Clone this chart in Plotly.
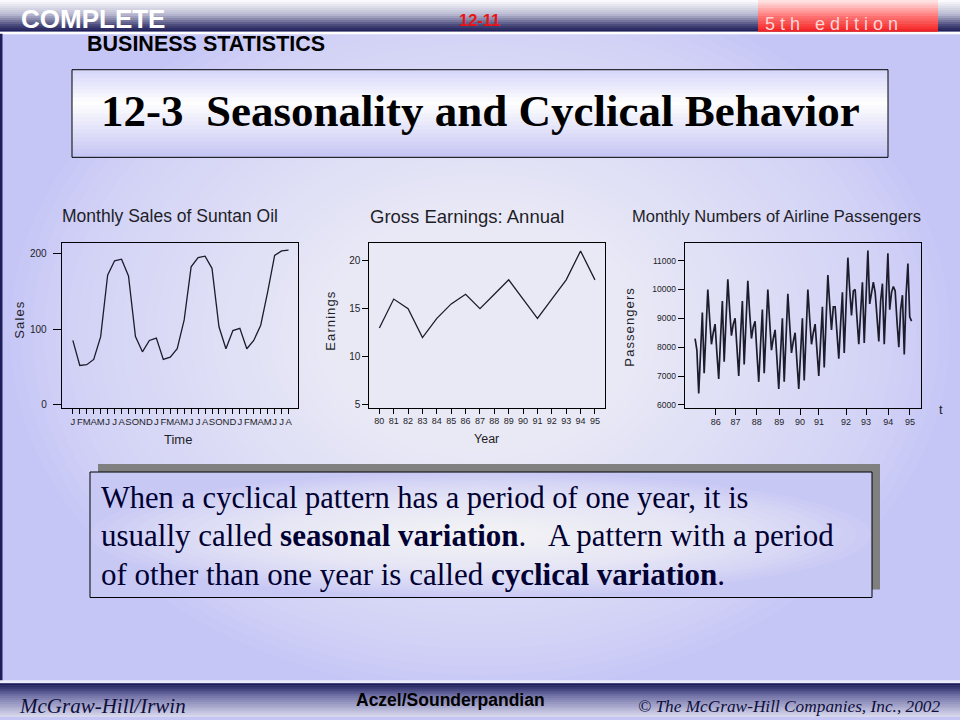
import plotly.graph_objects as go

W, H = 960, 720

# ---------------- data ----------------
suntan_months = list("JFMAMJJASOND" * 2 + "JFMAMJJA")
suntan_sales = [85, 52, 53, 60, 90, 171, 190, 192, 170, 90, 70, 85, 88, 60, 63, 74,
                112, 182, 194, 196, 180, 103, 74, 98, 101, 74, 85, 105, 149, 197, 203, 204]

earn_years = list(range(80, 96))
earn_labels = [str(y) for y in earn_years]
earn_values = [13, 16, 15, 12, 14, 15.5, 16.5, 15, 16.5, 18, 16, 14, 16, 18, 21, 18]

passengers = [8300, 7900, 6400, 7800, 9200, 7100, 8500, 10000, 9000, 8100,
              8500, 8800, 7800, 6900, 8300, 9600, 7500, 9000, 10350, 9300,
              8400, 8800, 9000, 8000, 7000, 8400, 9600, 7400, 8900, 10300,
              9200, 8300, 8700, 8900, 7800, 6800, 8100, 9300, 7100, 8600,
              10000, 8900, 7900, 8300, 8600, 7600, 6550, 7800, 9000, 6800,
              8300, 9850, 8800, 7800, 8200, 8500, 7500, 6550, 7800, 9000,
              6850, 8400, 10000, 9000, 8100, 8500, 8800, 7900, 7000, 8200,
              9400, 7300, 8900, 10500, 9500, 8600, 9400, 9400, 8500, 7600,
              8800, 9900, 7800, 9400, 11100, 10000, 9100, 9950, 10000, 9000,
              8100, 9200, 10250, 8150, 9800, 11350, 9500, 9900, 10250, 9900,
              9000, 8200, 9600, 10200, 8100, 9700, 11250, 9300, 9900, 10100,
              9950, 8900, 8000, 9300, 9800, 7750, 9800, 10900, 9050, 8900]
pass_tick_pos = [11.4, 22.2, 33.9, 46.3, 57.7, 68.1, 83.0, 94.0, 106.2, 118.1]
pass_tick_text = ["86", "87", "88", "89", "90", "91", "92", "93", "94", "95"]
pass_ytick_vals = [6000, 7000, 8000, 9000, 10000, 11000]
pass_ytick_text = [str(v) for v in pass_ytick_vals]

# ---------------- helpers ----------------
def X(px):
    return px / W

def Y(py):
    return 1 - py / H

shapes = []
annotations = []

def rect(x0, y0, x1, y1, fill, line=None, opacity=1.0):
    shapes.append(dict(type="rect", xref="paper", yref="paper",
                       x0=X(x0), x1=X(x1), y0=Y(y1), y1=Y(y0),
                       fillcolor=fill, opacity=opacity, layer="below",
                       line=line if line else dict(width=0)))

def ellipse(cx, cy, rx, ry, fill, opacity):
    shapes.append(dict(type="circle", xref="paper", yref="paper",
                       x0=X(cx - rx), x1=X(cx + rx), y0=Y(cy + ry), y1=Y(cy - ry),
                       fillcolor=fill, opacity=opacity, layer="below",
                       line=dict(width=0)))

def lerp(stops, t):
    for (t0, c0), (t1, c1) in zip(stops[:-1], stops[1:]):
        if t0 <= t <= t1:
            f = (t - t0) / (t1 - t0) if t1 > t0 else 0
            c = [round(a + (b - a) * f) for a, b in zip(c0, c1)]
            return "rgb(%d,%d,%d)" % tuple(c)
    c = stops[-1][1]
    return "rgb(%d,%d,%d)" % tuple(c)

def vgrad(x0, y0, x1, y1, stops, n):
    h = (y1 - y0) / n
    for i in range(n):
        ya = y0 + h * i
        yb = min(y1, ya + h + 0.6)
        rect(x0, ya, x1, yb, lerp(stops, (i + 0.5) / n))

def text(x, y, s, size, family, color="black", xanchor="center", yanchor="middle", angle=0):
    annotations.append(dict(x=X(x), y=Y(y), xref="paper", yref="paper", text=s,
                            showarrow=False, xanchor=xanchor, yanchor=yanchor,
                            textangle=angle,
                            font=dict(size=size, family=family, color=color)))

SANS = "Liberation Sans, Arial, sans-serif"
SERIF = "Liberation Serif, Times New Roman, serif"
HS = "\u200a"

def spaced(s):
    return HS.join(list(s))

# ---------------- slide background ----------------
rect(0, 0, W, H, "rgb(198,198,246)")
for i in range(40):
    s = 1.0 - i * 0.024
    ellipse(480, 335, 470 * s, 360 * s, "white", 0.045)

# top bar
vgrad(0, 0, W, 32, [(0, (255, 255, 255)), (0.45, (185, 185, 210)), (0.8, (70, 70, 120)), (1, (25, 25, 85))], 16)
rect(0, 32, W, 34.5, "white")
# red edition box
vgrad(758, 0, 938, 32, [(0, (255, 235, 235)), (0.5, (255, 120, 120)), (1, (245, 30, 30))], 12)
# left border line
rect(0, 34, 2.5, 684, "rgb(30,30,90)")
# bottom bar
rect(0, 683, W, 686, "rgb(235,235,252)")
vgrad(0, 686, W, 720, [(0, (20, 20, 80)), (0.35, (110, 110, 165)), (1, (220, 220, 240))], 16)

# title box
vgrad(72, 70, 888, 158, [(0, (212, 212, 250)), (0.38, (255, 255, 255)), (1, (196, 196, 244))], 22)
rect(72, 70, 888, 158, "rgba(0,0,0,0)", line=dict(color="black", width=1))

# text box with shadow
rect(98, 466, 880, 592, "rgb(128,128,128)")
rect(90, 474, 872, 600, "rgb(200,200,245)")
for i in range(24):
    s = 1.0 - i * 0.038
    ellipse(481, 537, 390 * s, 62 * s, "white", 0.07)
rect(90, 474, 872, 600, "rgba(0,0,0,0)", line=dict(color="black", width=1))

# ---------------- slide texts ----------------
text(93, 19, "<b>COMPLETE</b>", 26, SANS, color="white")
text(206, 44, "<b>BUSINESS STATISTICS</b>", 21.5, SANS, color="black")
text(479, 20, "<b>12-11</b>", 16.5, SANS, color="rgb(235,20,20)")
text(831, 24, "5 t h &nbsp; e d i t i o n", 18, SANS, color="rgb(255,215,215)")

text(480, 111, "<b>12-3&nbsp; Seasonality and Cyclical Behavior</b>", 45, SERIF, color="black")

BODY = "rgb(0,0,50)"
text(99, 500, "When a cyclical pattern has a period of one year, it is", 30.5, SERIF, BODY, xanchor="left")
text(99, 538, "usually called <b>seasonal variation</b>.&nbsp;&nbsp; A pattern with a period", 31, SERIF, BODY, xanchor="left")
text(99, 577, "of other than one year is called <b>cyclical variation</b>.", 31, SERIF, BODY, xanchor="left")

text(17, 709, "<i>McGraw-Hill/Irwin</i>", 21, SERIF, "rgb(15,15,60)", xanchor="left")
text(450, 703, "<b>Aczel/Sounderpandian</b>", 17.5, SANS, "black")
text(942, 709, "<i>© The McGraw-Hill Companies, Inc., 2002</i>", 17.3, SERIF, "rgb(15,15,60)", xanchor="right")

# ---------------- chart titles & axis labels ----------------
TC = "rgb(30,30,40)"
text(170, 217, "Monthly Sales of Suntan Oil", 17.5, SANS, TC)
text(467, 217, "Gross Earnings: Annual", 18.5, SANS, TC)
text(776, 217, "Monthly Numbers of Airline Passengers", 16.5, SANS, TC)

text(178, 441, "Time", 13, SANS, TC)
text(486, 441, "Year", 12.5, SANS, TC)
text(20, 322, spaced("Sales"), 13, SANS, TC, angle=-90)
text(331, 323, spaced("Earnings"), 13, SANS, TC, angle=-90)
text(630, 329, spaced("Passengers"), 13, SANS, TC, angle=-90)
text(941, 411, "t", 13, SANS, TC)

# ---------------- figure ----------------
LINE = "rgb(28,28,44)"
fig = go.Figure()
fig.add_trace(go.Scatter(x=list(range(len(suntan_sales))), y=suntan_sales, mode="lines",
                         line=dict(color=LINE, width=1.3), xaxis="x", yaxis="y"))
fig.add_trace(go.Scatter(x=earn_years, y=earn_values, mode="lines",
                         line=dict(color=LINE, width=1.3), xaxis="x2", yaxis="y2"))
fig.add_trace(go.Scatter(x=list(range(len(passengers))), y=passengers, mode="lines",
                         line=dict(color=LINE, width=1.7), xaxis="x3", yaxis="y3"))

def ax(**kw):
    d = dict(showline=True, mirror=True, linecolor="black", linewidth=1,
             ticks="outside", tickcolor="black", tickwidth=1, showgrid=False,
             zeroline=False, tickangle=0, tickmode="array", fixedrange=True,
             tickfont=dict(family=SANS, size=10, color="rgb(30,30,40)"))
    d.update(kw)
    return d

ydom = [Y(409.3), Y(244.3)]
fig.update_layout(
    width=W, height=H, margin=dict(l=0, r=0, t=0, b=0),
    paper_bgcolor="rgb(198,198,246)", plot_bgcolor="rgba(0,0,0,0)",
    showlegend=False, shapes=shapes, annotations=annotations,
    xaxis=ax(domain=[X(61.7), X(298.3)], range=[-1.6, 32.4], anchor="y",
             tickvals=list(range(len(suntan_months))), ticktext=suntan_months, ticklen=5,
             tickfont=dict(family=SANS, size=9.5, color="rgb(30,30,40)")),
    yaxis=ax(domain=ydom, range=[-3.5, 213], anchor="x", tickvals=[0, 100, 200],
             ticktext=["0", "100", "200"], ticklen=8, ticklabelstandoff=4),
    xaxis2=ax(domain=[X(369.3), X(605)], range=[79.3, 95.7], anchor="y2",
              tickvals=earn_years, ticktext=earn_labels, ticklen=5,
              tickfont=dict(family=SANS, size=9, color="rgb(30,30,40)")),
    yaxis2=ax(domain=ydom, range=[4.72, 21.8], anchor="x2", tickvals=[5, 10, 15, 20],
              ticktext=["5", "10", "15", "20"], ticklen=6),
    xaxis3=ax(domain=[X(684.7), X(921)], range=[-5.7, 124.2], anchor="y3",
              tickvals=pass_tick_pos, ticktext=pass_tick_text, ticklen=6,
              tickfont=dict(family=SANS, size=9, color="rgb(30,30,40)")),
    yaxis3=ax(domain=ydom, range=[5908, 11598], anchor="x3",
              tickvals=pass_ytick_vals, ticktext=pass_ytick_text, ticklen=6,
              tickfont=dict(family=SANS, size=8.5, color="rgb(30,30,40)")),
)

fig.write_html("out.html", include_plotlyjs=True, config={"displayModeBar": False},
               post_script="document.body.style.margin='0';document.body.style.overflow='hidden';")
